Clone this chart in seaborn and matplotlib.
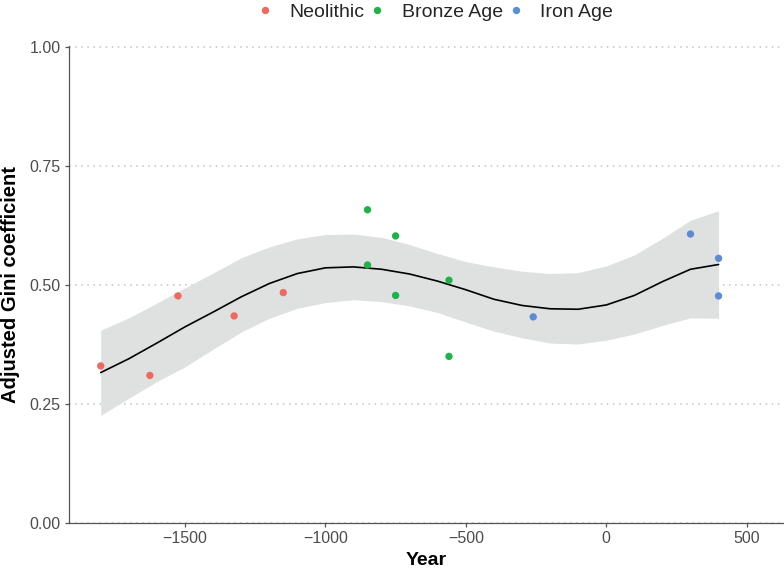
import numpy as np
import pandas as pd
import matplotlib
matplotlib.use("Agg")
import matplotlib.pyplot as plt
import seaborn as sns

# points
periods = ["Neolithic"] * 5 + ["Bronze Age"] * 6 + ["Iron Age"] * 4
years = [-1800, -1625, -1525, -1325, -1150,
         -850, -850, -750, -750, -560, -560,
         -260, 300, 400, 400]
gini = [0.330, 0.310, 0.477, 0.435, 0.484,
        0.658, 0.542, 0.603, 0.478, 0.510, 0.350,
        0.433, 0.607, 0.556, 0.477]

# smoothed trend and confidence band
fit_year = [-1800, -1700, -1600, -1500, -1400, -1300, -1200, -1100, -1000, -900,
            -800, -700, -600, -500, -400, -300, -200, -100, 0, 100, 200, 300, 400]
fit_val = [0.316, 0.345, 0.378, 0.412, 0.443, 0.475, 0.503, 0.524, 0.536, 0.538,
           0.533, 0.523, 0.508, 0.490, 0.470, 0.457, 0.450, 0.449, 0.458, 0.478,
           0.507, 0.533, 0.543]
fit_lo = [0.226, 0.262, 0.297, 0.328, 0.365, 0.401, 0.430, 0.451, 0.463, 0.469,
          0.465, 0.456, 0.442, 0.422, 0.403, 0.389, 0.378, 0.376, 0.384, 0.397,
          0.415, 0.431, 0.430]
fit_hi = [0.405, 0.431, 0.462, 0.494, 0.525, 0.557, 0.580, 0.597, 0.606, 0.607,
          0.600, 0.585, 0.566, 0.549, 0.538, 0.529, 0.524, 0.526, 0.540, 0.563,
          0.598, 0.636, 0.656]

df = pd.DataFrame({"Year": years, "Gini": gini, "Period": periods})
fit = pd.DataFrame({"Year": fit_year, "fit": fit_val})

sns.set_theme(style="white")
plt.rcParams["font.family"] = ["Liberation Sans", "DejaVu Sans"]

fig = plt.figure(figsize=(7.84, 5.71), dpi=100)
# panel: left edge x=69px, bottom y=523px, top y=46px, runs to right edge
ax = fig.add_axes([69 / 784, 48 / 571, 715 / 784, 477 / 571])

ax.fill_between(fit_year, fit_lo, fit_hi, color="#dfe0e0", linewidth=0, zorder=1)
sns.lineplot(data=fit, x="Year", y="fit", color="black", linewidth=1.2, ax=ax, zorder=2)

palette = {"Neolithic": "#EE6A61", "Bronze Age": "#1FB24B", "Iron Age": "#5C8CD4"}
sns.scatterplot(data=df, x="Year", y="Gini", hue="Period", palette=palette,
                s=28, edgecolor="none", ax=ax, zorder=3, legend=True)

ax.set_xlim(-1913, 633)
ax.set_ylim(0, 1.002)
ax.set_xticks([-1500, -1000, -500, 0, 500])
ax.set_yticks([0, 0.25, 0.5, 0.75, 1.0])
ax.set_yticklabels(["0.00", "0.25", "0.50", "0.75", "1.00"])
ax.yaxis.grid(True, color="#c4c4c4", linestyle=(0, (1, 3)), linewidth=1.1)
ax.xaxis.grid(False)
ax.set_axisbelow(True)

for s in ["top", "right"]:
    ax.spines[s].set_visible(False)
for s in ["left", "bottom"]:
    ax.spines[s].set_color("#555555")
    ax.spines[s].set_linewidth(0.9)

ax.tick_params(axis="both", labelsize=11.5, colors="#555555", length=3, width=0.9,
               direction="out", bottom=True, left=True, pad=3)
for lab in ax.get_xticklabels() + ax.get_yticklabels():
    lab.set_color("#4d4d4d")

ax.set_xlabel("Year", fontsize=14, fontweight="bold", color="black", labelpad=4)
ax.set_ylabel("Adjusted Gini coefficient", fontsize=14.5, fontweight="bold",
              color="black", labelpad=7)

handles, labels = ax.get_legend_handles_labels()
ax.get_legend().remove()
fig.legend(handles, labels, loc="center left", bbox_to_anchor=(255 / 784, 1 - 12.5 / 571),
           ncol=3, frameon=False, fontsize=14, handlelength=1.0, handletextpad=0.75,
           columnspacing=0.18, borderpad=0, borderaxespad=0, markerscale=1.0)

fig.savefig("out.png", dpi=100)
